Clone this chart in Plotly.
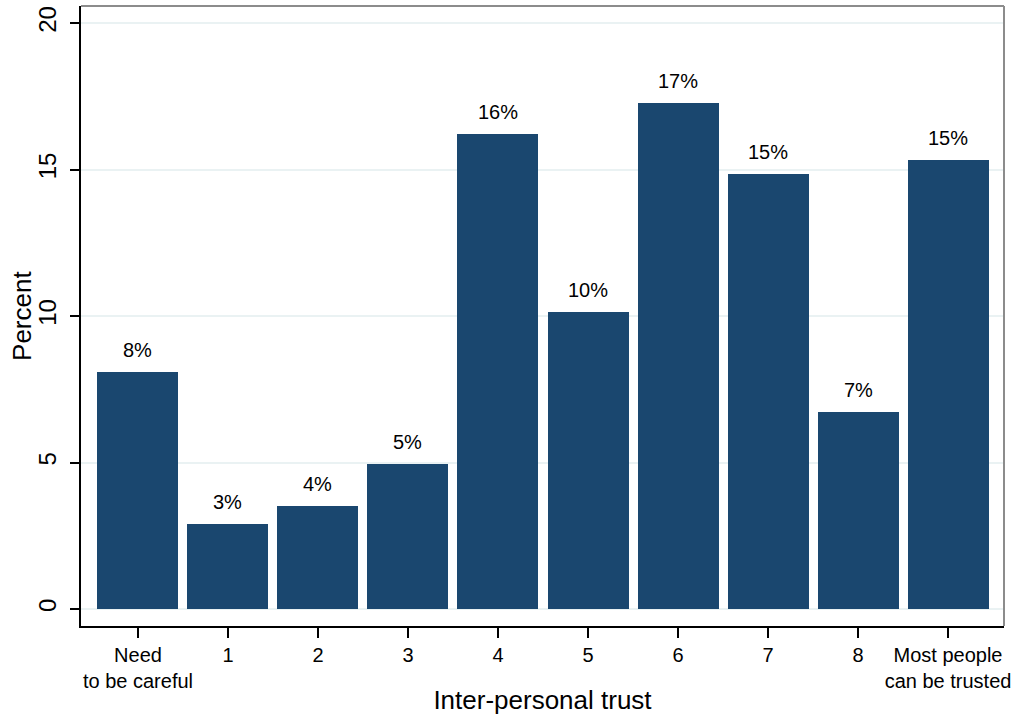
import plotly.graph_objects as go

categories = ["Need<br>to be careful", "1", "2", "3", "4", "5", "6", "7", "8", "Most people<br>can be trusted"]
percent = [8.1, 2.9, 3.52, 4.95, 16.21, 10.14, 17.27, 14.85, 6.72, 15.32]
labels = ["8%", "3%", "4%", "5%", "16%", "10%", "17%", "15%", "7%", "15%"]
yticks = [0, 5, 10, 15, 20]

xpos = list(range(len(categories)))
font = "Liberation Sans, Arial, sans-serif"

fig = go.Figure()
fig.add_trace(go.Bar(
    x=xpos, y=percent, width=0.9,
    marker=dict(color="#1A476F", line=dict(width=0)),
    showlegend=False, hoverinfo="skip",
))

for x, v, t in zip(xpos, percent, labels):
    fig.add_annotation(x=x, y=v, text=t, showarrow=False, yanchor="bottom",
                       yshift=9, font=dict(family=font, size=20, color="black"))

# y-axis title
fig.add_annotation(xref="paper", yref="paper", x=-0.064, y=0.5, text="Percent",
                   textangle=-90, showarrow=False, xanchor="center", yanchor="middle",
                   font=dict(family=font, size=26, color="black"))

fig.update_layout(
    width=1020, height=717,
    margin=dict(l=81, r=16, t=6, b=91, autoexpand=False),
    paper_bgcolor="white", plot_bgcolor="white",
    font=dict(family=font, color="black"),
    bargap=0,
    xaxis=dict(
        range=[-0.633, 9.622],
        tickmode="array", tickvals=xpos, ticktext=categories,
        ticks="outside", ticklen=10, tickwidth=1.5, tickcolor="black",
        tickfont=dict(size=20),
        showline=True, linecolor="black", linewidth=1.5,
        showgrid=False, zeroline=False, automargin=False,
        title=dict(text="Inter-personal trust", font=dict(size=26), standoff=0),
        mirror=False,
    ),
    yaxis=dict(
        range=[-0.58, 20.58],
        tickmode="array", tickvals=yticks, ticktext=[str(v) for v in yticks],
        tickangle=-90, ticklabelstandoff=5,
        ticks="outside", ticklen=9, tickwidth=1.5, tickcolor="black",
        tickfont=dict(size=24),
        showline=True, linecolor="black", linewidth=1.5,
        showgrid=True, gridcolor="#EAF2F3", gridwidth=2,
        zeroline=False, automargin=False,
    ),
    shapes=[
        dict(type="line", xref="paper", yref="paper", x0=0, x1=1, y0=1, y1=1,
             line=dict(color="#8c8c8c", width=2)),
        dict(type="line", xref="paper", yref="paper", x0=1, x1=1, y0=0, y1=1,
             line=dict(color="#8c8c8c", width=2)),
    ],
)

fig.write_html("out.html", config={"displayModeBar": False},
               post_script="document.body.style.margin='0';")
